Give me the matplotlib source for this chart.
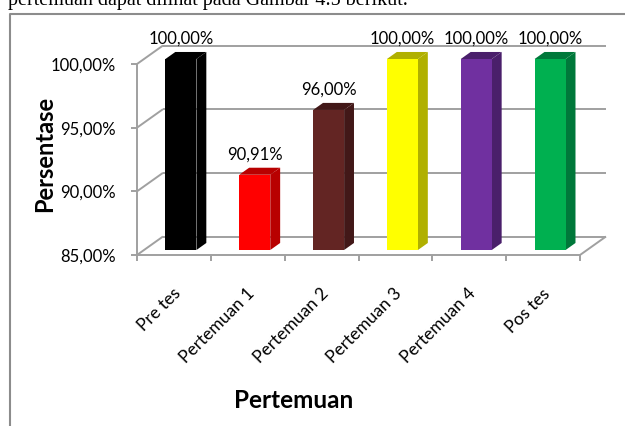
import matplotlib
matplotlib.use("Agg")
import matplotlib.pyplot as plt
from matplotlib.patches import Polygon, Rectangle
from matplotlib.lines import Line2D

# Data
categories = ["Pre tes", "Pertemuan 1", "Pertemuan 2", "Pertemuan 3", "Pertemuan 4", "Pos tes"]
values = [100.00, 90.91, 96.00, 100.00, 100.00, 100.00]
front_colors = ["#000000", "#FF0000", "#632523", "#FFFF00", "#7030A0", "#00B050"]
side_colors = ["#000000", "#B80000", "#421818", "#B0B000", "#4A1F6B", "#00783A"]
y_ticks = [85, 90, 95, 100]

plt.rcParams["font.family"] = ["Lato", "DejaVu Sans"]

W, H = 625, 426
fig = plt.figure(figsize=(W / 100, H / 100), dpi=100)

# front plane of the plot box in pixels
x0_px, x1_px = 137, 580
ybot_px, ytop_px = 255, 64
ax = fig.add_axes([x0_px / W, (H - ybot_px) / H, (x1_px - x0_px) / W, (ybot_px - ytop_px) / H])
n = len(categories)
ax.set_xlim(0, n)
ax.set_ylim(85, 100)

# depth of the box in data units
px_per_x = (x1_px - x0_px) / n
px_per_y = (ybot_px - ytop_px) / 15.0
dx = 26 / px_per_x
dy = 18.5 / px_per_y

grid_kw = dict(color="#A0A0A0", lw=1.4, clip_on=False, solid_capstyle="butt", zorder=1)

# back wall gridlines and left wall diagonals
for g in y_ticks:
    ax.plot([dx, n + dx], [g + dy, g + dy], **grid_kw)
    ax.plot([0, dx], [g, g + dy], **grid_kw)
# floor right edge
ax.plot([n, n + dx], [85, 85 + dy], **grid_kw)

# bars with a simple extruded look
f1, f2 = 0.27, 0.65
bw = 0.42
for i, (v, fc, sc) in enumerate(zip(values, front_colors, side_colors)):
    cx = i + 0.5 + f1 * dx
    xl, xr = cx - bw / 2, cx + bw / 2
    yb = 85 + f1 * dy
    yt = v + f1 * dy
    ddx, ddy = (f2 - f1) * dx, (f2 - f1) * dy
    side = Polygon([(xr, yb), (xr + ddx, yb + ddy), (xr + ddx, yt + ddy), (xr, yt)],
                   closed=True, facecolor=sc, edgecolor="none", clip_on=False, zorder=3)
    top = Polygon([(xl, yt), (xr, yt), (xr + ddx, yt + ddy), (xl + ddx, yt + ddy)],
                  closed=True, facecolor=sc, edgecolor="none", clip_on=False, zorder=3)
    front = Rectangle((xl, yb), bw, yt - yb, facecolor=fc, edgecolor="none",
                      clip_on=False, zorder=4)
    ax.add_patch(side)
    ax.add_patch(top)
    ax.add_patch(front)
    ax.annotate(f"{v:.2f}%".replace(".", ","), xy=(cx, v + f2 * dy), xytext=(0, 4),
                textcoords="offset points", ha="center", va="bottom",
                fontsize=12, color="#000000", annotation_clip=False)

# front axes lines and ticks
for s in ["top", "right"]:
    ax.spines[s].set_visible(False)
for s in ["left", "bottom"]:
    ax.spines[s].set_color("#A0A0A0")
    ax.spines[s].set_linewidth(1.4)
ax.set_yticks(y_ticks)
ax.set_yticklabels([f"{t:.2f}%".replace(".", ",") for t in y_ticks])
ax.set_xticks(range(n + 1))
ax.set_xticklabels([])
ax.tick_params(axis="y", length=4, width=1.4, color="#A0A0A0", pad=11, labelsize=12)
ax.tick_params(axis="x", length=4, width=1.4, color="#A0A0A0")
ax.set_facecolor("none")

# rotated category labels
for i, c in enumerate(categories):
    ax.annotate(c, xy=(i + 0.5, 85), xytext=(3, -26), textcoords="offset points",
                rotation=45, rotation_mode="anchor", ha="right", va="center",
                fontsize=12.5, annotation_clip=False)

fig.text(45 / W, 1 - 154 / H, "Persentase", rotation=90, ha="center", va="center",
         fontsize=17, fontweight="bold")
fig.text(294 / W, 1 - 400 / H, "Pertemuan", ha="center", va="center",
         fontsize=17.5, fontweight="bold")

# chart frame
fig.add_artist(Line2D([9.5 / W, 9.5 / W, 1.0], [0.0, 1 - 13.5 / H, 1 - 13.5 / H],
                      transform=fig.transFigure, color="#8C8C8C", lw=1.5))

# preceding line of body text
fig.text(8 / W, 1 - 5 / H, "pertemuan dapat dilihat pada Gambar 4.5 berikut.",
         ha="left", va="baseline", fontsize=14.5, family="Liberation Serif")

fig.savefig("out.png", dpi=100)
